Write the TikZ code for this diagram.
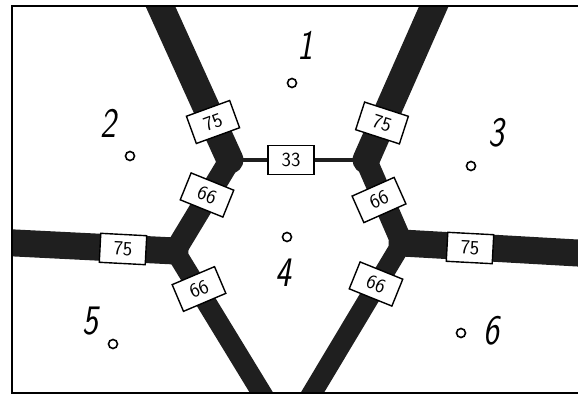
\documentclass[tikz,border=0pt]{standalone}
\usetikzlibrary{calc}
\begin{document}
\begin{tikzpicture}[x=1pt,y=-1pt,
  road/.style={line width=#1, draw=black!88, line cap=round, line join=round},
  tag/.style={draw=black, line width=1.4pt, fill=white, minimum width=46pt, minimum height=29pt,
    inner sep=0pt, font=\fontsize{20}{20}\selectfont\sffamily},
  area/.style={font=\fontsize{42}{42}\selectfont\sffamily\slshape, xscale=0.8, inner sep=0pt},
  spot/.style={circle, draw=black, line width=1.6pt, minimum size=9pt, inner sep=0pt}]
\useasboundingbox (0,0) rectangle (578,396);
% junctions and road ends
\coordinate (J1) at (230,160);
\coordinate (J2) at (366,160);
\coordinate (J3) at (175,251);
\coordinate (J4) at (402,243);
\coordinate (etl) at (153,-10);
\coordinate (etr) at (441,-10);
\coordinate (el) at (-5,242);
\coordinate (er) at (595,254);
\coordinate (ebl) at (272,410);
\coordinate (ebr) at (302,410);
\begin{scope}
  \clip (12,6) rectangle (600,393);
  \draw[road=27pt] (etl) -- (J1);
  \draw[road=27pt] (etr) -- (J2);
  \draw[road=22pt] (J1) -- (J3);
  \draw[road=22pt] (J2) -- (J4);
  \draw[road=27pt] (el) -- (J3);
  \draw[road=27pt] (er) -- (J4);
  \draw[road=20pt] (J3) -- (ebl);
  \draw[road=20pt] (J4) -- (ebr);
  \draw[line width=4pt, black!88] (J1) -- (J2);
\end{scope}
% frame
\draw[line width=2.2pt] (600,6) -- (12,6) -- (12,393) -- (600,393);
% labels
\node[tag] (t33) at (291,160) {33};
\node[tag, rotate=20] (t75a) at (213,122) {75};
\node[tag, rotate=-18] (t75b) at (382,123) {75};
\node[tag, rotate=-22] (t66a) at (207,195) {66};
\node[tag, rotate=24] (t66b) at (379,200) {66};
\node[tag, rotate=-3] (t75c) at (123,249) {75};
\node[tag, rotate=-3] (t75d) at (470,248) {75};
\node[tag, rotate=23] (t66c) at (199,289) {66};
\node[tag, rotate=-22] (t66d) at (376,284) {66};
% areas
\node[area] (n1) at (305,45) {1};
\node[spot] (d1) at (292,83) {};
\node[area] (n2) at (108,123) {2};
\node[spot] (d2) at (130,156) {};
\node[area] (n3) at (496,133) {3};
\node[spot] (d3) at (471,166) {};
\node[area] (n4) at (283,273) {4};
\node[spot] (d4) at (287,237) {};
\node[area] (n5) at (90,321) {5};
\node[spot] (d5) at (113,344) {};
\node[area] (n6) at (491,331) {6};
\node[spot] (d6) at (461,333) {};
\end{tikzpicture}
\end{document}
